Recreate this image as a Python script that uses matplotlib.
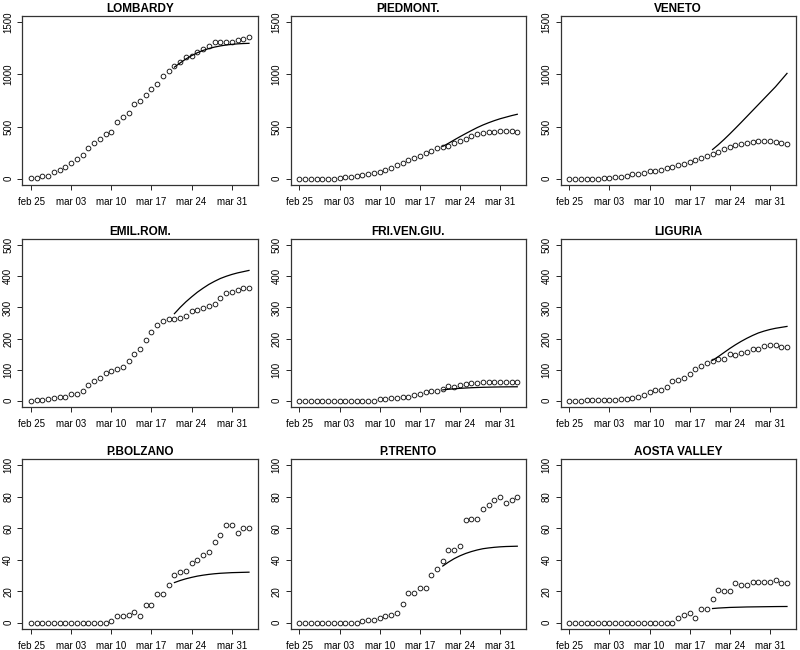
import matplotlib
matplotlib.use("Agg")
import matplotlib.pyplot as plt
import numpy as np

plt.rcParams['font.family'] = ['Liberation Sans', 'DejaVu Sans']

days = list(range(39))
tick_pos = [0, 7, 14, 21, 28, 35]
tick_labels = ["feb 25", "mar 03", "mar 10", "mar 17", "mar 24", "mar 31"]
fit_start = 25

regions = ["LOMBARDY", "PIEDMONT.", "VENETO",
           "EMIL.ROM.", "FRI.VEN.GIU.", "LIGURIA",
           "P.BOLZANO", "P.TRENTO", "AOSTA VALLEY"]

lombardy = [10, 10, 25, 30, 60, 87, 110, 148, 190, 226, 294, 342, 384, 426, 448,
            542, 590, 632, 716, 748, 806, 861, 906, 987, 1035, 1077, 1123, 1168,
            1181, 1219, 1248, 1274, 1306, 1306, 1313, 1306, 1326, 1335, 1361]
lombardy_fit = [1070, 1110, 1148, 1180, 1208, 1230, 1248, 1262, 1273, 1282, 1288,
                1293, 1296, 1298]

piedmont = [0, 0, 0, 0, 0, 0, 2, 5, 12, 18, 28, 38, 45, 55, 68, 82, 100, 135, 155,
            175, 200, 220, 245, 270, 290, 305, 312, 345, 365, 385, 410, 430, 440,
            445, 450, 455, 455, 455, 450]
piedmont_fit = [310, 340, 372, 403, 433, 462, 490, 515, 537, 557, 575, 590, 605, 618]

veneto = [0, 0, 0, 0, 0, 2, 5, 8, 12, 18, 25, 42, 48, 55, 70, 77, 87, 103, 116,
          132, 145, 161, 184, 203, 219, 239, 255, 281, 306, 319, 332, 345, 352,
          358, 361, 358, 352, 345, 332]
veneto_fit = [280, 326, 376, 429, 484, 540, 597, 654, 711, 768, 825, 882, 946, 1010]

emilrom = [0, 2, 4, 5, 10, 12, 13, 22, 23, 31, 51, 63, 74, 88, 96, 101, 110, 127,
           150, 167, 195, 221, 244, 257, 264, 262, 267, 273, 289, 292, 297, 304,
           311, 330, 348, 350, 355, 364, 361]
emilrom_fit = [280, 300, 318, 334, 349, 362, 374, 384, 393, 400, 406, 411, 415, 419]

friuli = [0, 0, 0, 0, 0, 0, 0, 0, 0, 0, 0, 0, 0, 0, 6, 6, 10, 9, 11, 12, 19, 21,
          27, 30, 32, 37, 48, 43, 50, 53, 56, 58, 59, 59, 59, 59, 59, 59, 61]
friuli_fit = [35, 37, 38.5, 40, 41, 42, 42.7, 43.3, 43.8, 44.2, 44.5, 44.7, 44.9, 45]

liguria = [0, 0, 0, 1, 2, 2, 3, 3, 4, 5, 6, 8, 12, 18, 28, 34, 36, 45, 62, 67, 74,
           85, 101, 113, 121, 128, 133, 133, 149, 148, 154, 157, 168, 166, 175,
           180, 180, 172, 173]
liguria_fit = [130, 142, 155, 168, 180, 191, 201, 210, 218, 224, 229, 233, 236, 239]

bolzano = [0, 0, 0, 0, 0, 0, 0, 0, 0, 0, 0, 0, 0, 0, 1, 4, 4, 5, 7, 4, 11, 11, 18,
           18, 24, 30, 32, 33, 38, 40, 43, 45, 51, 56, 62, 62, 57, 60, 60]
bolzano_fit = [25.5, 26.8, 27.9, 28.8, 29.6, 30.2, 30.7, 31.1, 31.4, 31.6, 31.8,
               31.9, 32.0, 32.1]

trento = [0, 0, 0, 0, 0, 0, 0, 0, 0, 0, 0, 1, 2, 2, 3, 4, 5, 6, 12, 19, 19, 22, 22,
          30, 34, 39, 46, 46, 49, 65, 66, 66, 72, 75, 78, 80, 76, 78, 80]
trento_fit = [36, 38.5, 40.7, 42.5, 44, 45.2, 46.2, 47, 47.5, 47.9, 48.2, 48.4,
              48.5, 48.6]

aosta = [0, 0, 0, 0, 0, 0, 0, 0, 0, 0, 0, 0, 0, 0, 0, 0, 0, 0, 0, 3, 5, 6, 3, 9, 9,
         15, 21, 20, 20, 25, 24, 24, 26, 26, 26, 26, 27, 25, 25]
aosta_fit = [9.0, 9.3, 9.5, 9.7, 9.8, 9.9, 10.0, 10.05, 10.1, 10.15, 10.2, 10.25,
             10.28, 10.3]

observed = [lombardy, piedmont, veneto, emilrom, friuli, liguria, bolzano, trento, aosta]
fitted = [lombardy_fit, piedmont_fit, veneto_fit, emilrom_fit, friuli_fit,
          liguria_fit, bolzano_fit, trento_fit, aosta_fit]
row_ymax = [1500, 500, 100]
row_yticks = [[0, 500, 1000, 1500], [0, 100, 200, 300, 400, 500],
              [0, 20, 40, 60, 80, 100]]

W, H = 800, 650
fig = plt.figure(figsize=(8, 6.5), dpi=100)
cols_px = [(22.3, 257.7), (290.7, 526.0), (560.7, 795.7)]
rows_px = [(16, 185), (239, 407), (459, 629)]

for k in range(9):
    r, c = divmod(k, 3)
    x0, x1 = cols_px[c]
    y0, y1 = rows_px[r]
    ax = fig.add_axes([x0 / W, 1 - y1 / H, (x1 - x0) / W, (y1 - y0) / H])
    ax.plot(days, observed[k], linestyle='none', marker='o', markersize=3.4,
            markerfacecolor='none', markeredgecolor='#111111', markeredgewidth=0.65)
    fit_days = days[fit_start:fit_start + len(fitted[k])]
    ax.plot(fit_days, fitted[k], color='black', linewidth=0.9)
    ax.set_xlim(-0.04 * 38, 38 * 1.04)
    ym = row_ymax[r]
    ax.set_ylim(-0.04 * ym, ym * 1.04)
    ax.set_xticks(tick_pos)
    ax.set_xticklabels(tick_labels, fontsize=7)
    ax.set_yticks(row_yticks[r])
    ax.set_yticklabels([str(v) for v in row_yticks[r]], fontsize=7,
                       rotation=90, va='center')
    ax.tick_params(direction='out', length=3.6, width=0.6, colors='black')
    ax.tick_params(axis='x', pad=5)
    ax.tick_params(axis='y', pad=3)
    for s in ax.spines.values():
        s.set_color('#333333')
        s.set_linewidth(0.9)
    ax.set_title(regions[k], fontsize=8.5, fontweight='bold', pad=3)

fig.savefig("out.png", dpi=100)
